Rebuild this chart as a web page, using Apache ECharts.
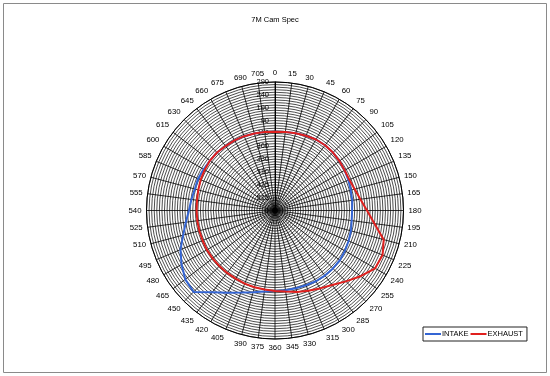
<!DOCTYPE html>
<html>
<head>
<meta charset="utf-8">
<script src="https://cdn.jsdelivr.net/npm/echarts@6/dist/echarts.min.js"></script>
<style>
html,body{margin:0;padding:0;background:#fff;}
#c{width:550px;height:376px;}
</style>
</head>
<body>
<div id="c"></div>
<script>
// Crank-angle categories (degrees)
const angles = [0,15,30,45,60,75,90,105,120,135,150,165,180,195,210,225,240,255,270,285,300,315,330,345,
  360,375,390,405,420,435,450,465,480,495,510,525,540,555,570,585,600,615,630,645,660,675,690,705];
// Radial values (axis 0..50)
const intake = [30.6,30.8,31.1,31.5,31.9,32.0,31.9,31.6,31.3,30.9,30.5,30.3,30.0,30.1,30.6,31.0,
  31.4,31.8,31.9,31.9,31.8,31.5,31.3,31.3,31.3,31.8,32.9,34.5,36.9,40.1,44.8,44.0,
  42.0,39.8,37.0,35.0,33.5,32.8,32.3,32.4,32.1,31.9,31.9,31.6,31.5,31.3,31.0,30.8];
const exhaust = [30.6,30.8,31.1,31.5,31.9,32.0,31.9,31.6,31.3,31.3,32.1,33.5,35.8,39.0,43.8,45.3,
  45.0,42.0,39.0,36.5,35.0,33.8,32.8,31.8,31.3,31.0,30.9,30.8,30.6,30.6,30.6,30.6,
  30.6,30.5,30.5,30.5,30.5,30.6,30.9,31.3,31.6,31.9,31.9,31.6,31.5,31.3,31.0,30.8];
// Radial tick labels (inner to outer)
const radialLabels = ["0","515","415","310","330","360","110","90","190","240","290"];
const seriesNames = ["INTAKE","EXHAUST"];

function closed(vals){
  const d = angles.map((a,i)=>[vals[i], a]);
  d.push([vals[0], 720]);
  return d;
}

const chart = echarts.init(document.getElementById('c'), null, {renderer:'canvas'});
const font = 'Liberation Sans, Arial, sans-serif';
chart.setOption({
  animation:false,
  backgroundColor:'#fff',
  title:{text:'7M Cam Spec', left:'center', top:11,
    textStyle:{fontSize:7.5, fontWeight:'normal', color:'#000', fontFamily:font}},
  legend:{data:seriesNames, left:423, top:327, orient:'horizontal',
    borderColor:'#222', borderWidth:1, padding:[3,4,3,2], itemGap:2,
    itemWidth:16, itemHeight:2, icon:'rect',
    textStyle:{fontSize:7.5, color:'#000', fontFamily:font, padding:[0,0,0,-4]}},
  graphic:[{type:'rect', shape:{x:3.5,y:3.5,width:543,height:369},
    style:{fill:'none', stroke:'#8a8a8a', lineWidth:1}, silent:true}],
  polar:{center:[275,210.5], radius:128.5},
  angleAxis:{type:'value', min:0, max:720, interval:15, startAngle:90, clockwise:true,
    axisLine:{show:true, lineStyle:{color:'#000', width:1}},
    axisTick:{show:false},
    axisLabel:{fontSize:7.8, color:'#000', fontFamily:font, margin:5,
      formatter:v => v===720 ? '' : String(v)},
    splitLine:{show:true, lineStyle:{color:'#000', width:0.8}}},
  radiusAxis:{type:'value', min:0, max:50, interval:1,
    axisLine:{show:true, lineStyle:{color:'#000', width:1}},
    axisTick:{show:false},
    axisLabel:{fontSize:7.5, color:'#000', fontFamily:font, margin:6,
      formatter:v => (v%5===0 ? radialLabels[v/5] : '')},
    splitLine:{show:true, lineStyle:{color:'#000', width:0.7}}},
  series:[
    {name:seriesNames[0], type:'line', coordinateSystem:'polar', data:closed(intake),
      showSymbol:false, symbol:'none', color:'#3465d4', lineStyle:{width:2, color:'#3465d4'}},
    {name:seriesNames[1], type:'line', coordinateSystem:'polar', data:closed(exhaust),
      showSymbol:false, symbol:'none', color:'#e0201e', lineStyle:{width:2, color:'#e0201e'}}
  ]
});
</script>
</body>
</html>
